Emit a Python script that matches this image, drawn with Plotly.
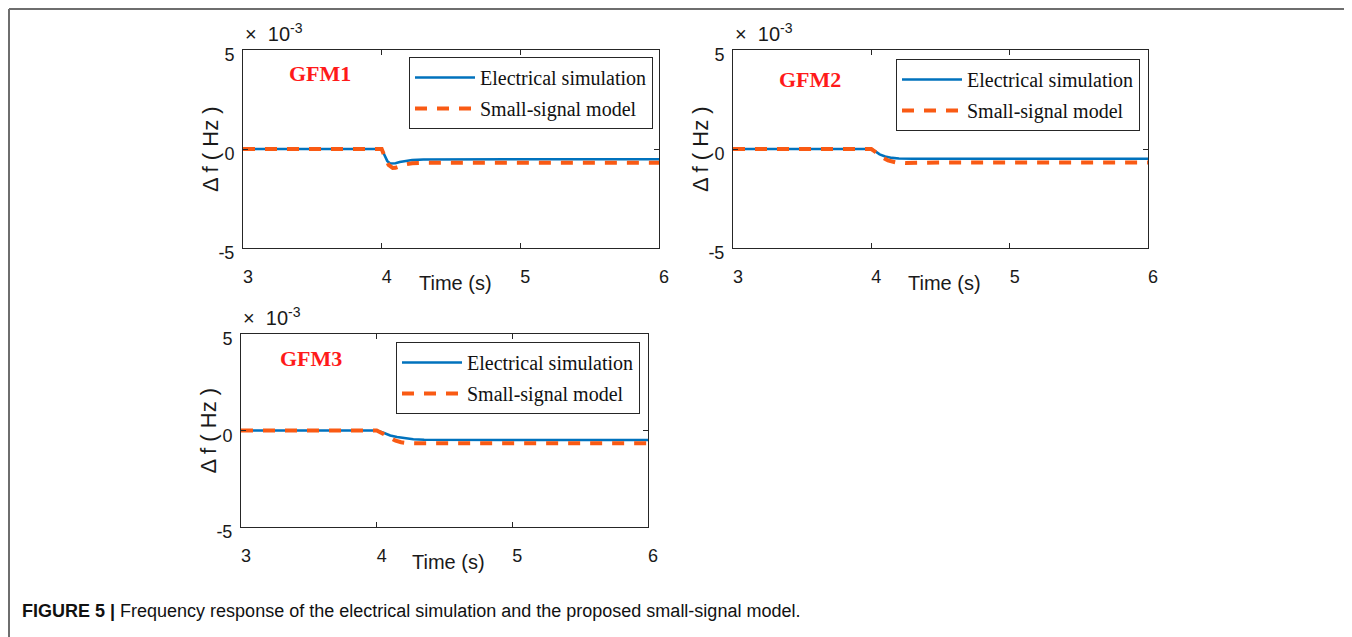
import plotly.graph_objects as go

W, H = 1352, 637
OFF = 8  # page body margin

# ---- data (Δf in units of 1e-3 Hz, time in s) ----
time_range = [3, 6]
f_range = [-5, 5]
x_ticks = [3, 4, 5, 6]
x_ticktext = ["3", "4", "5", "6"]
y_ticks = [-5, 0, 5]
y_ticktext = ["-5", "0", "5"]

panel_names = ["GFM1", "GFM2", "GFM3"]
series_names = ["Electrical simulation", "Small-signal model"]

t_elec_1 = [3.0, 4.0, 4.02, 4.04, 4.06, 4.08, 4.10, 4.13, 4.17, 4.22, 4.30, 4.50, 5.0, 6.0]
f_elec_1 = [0.0, 0.0, -0.30, -0.60, -0.73, -0.74, -0.72, -0.66, -0.60, -0.56, -0.53, -0.52, -0.52, -0.52]
t_ss_1 = [3.0, 4.0, 4.02, 4.05, 4.08, 4.10, 4.13, 4.17, 4.22, 4.30, 5.0, 6.0]
f_ss_1 = [0.0, 0.0, -0.35, -0.80, -0.96, -0.95, -0.88, -0.78, -0.72, -0.70, -0.70, -0.70]

t_elec_2 = [3.0, 4.0, 4.03, 4.06, 4.10, 4.15, 4.20, 4.30, 5.0, 6.0]
f_elec_2 = [0.0, 0.0, -0.12, -0.27, -0.38, -0.45, -0.48, -0.49, -0.49, -0.49]
t_ss_2 = [3.0, 4.0, 4.03, 4.07, 4.12, 4.18, 4.25, 4.35, 4.50, 5.0, 6.0]
f_ss_2 = [0.0, 0.0, -0.15, -0.38, -0.58, -0.68, -0.71, -0.70, -0.68, -0.68, -0.68]

t_elec_3 = [3.0, 4.0, 4.05, 4.10, 4.15, 4.20, 4.27, 4.35, 4.50, 5.0, 6.0]
f_elec_3 = [0.0, 0.0, -0.12, -0.26, -0.34, -0.40, -0.45, -0.48, -0.49, -0.49, -0.49]
t_ss_3 = [3.0, 4.0, 4.04, 4.07, 4.10, 4.14, 4.18, 4.22, 4.30, 5.0, 6.0]
f_ss_3 = [0.0, 0.0, -0.14, -0.27, -0.40, -0.53, -0.61, -0.65, -0.66, -0.66, -0.66]

elec_t = [t_elec_1, t_elec_2, t_elec_3]
elec_f = [f_elec_1, f_elec_2, f_elec_3]
ss_t = [t_ss_1, t_ss_2, t_ss_3]
ss_f = [f_ss_1, f_ss_2, f_ss_3]

# ---- layout geometry (target screen pixels) ----
panels_px = [  # left, right, top, bottom
    (243, 659, 50, 248),
    (733, 1148, 50, 248),
    (241, 648, 334, 527),
]
legend_px = [(653, 57), (1140, 59), (640, 342)]
label_px = [(320, 73), (810, 80), (311, 359)]

BLUE = "#0072BD"
ORANGE = "#F95A14"
AXC = "#262626"


def px(x):
    return (x - OFF) / W


def py(y):
    return 1 - (y - OFF) / H


fig = go.Figure()
for i in range(3):
    ax = "" if i == 0 else str(i + 1)
    lg = "legend" if i == 0 else "legend" + str(i + 1)
    fig.add_trace(go.Scatter(
        x=elec_t[i], y=elec_f[i], mode="lines", name=series_names[0],
        legendgroup="e%d" % i,
        line=dict(color=BLUE, width=2.6), xaxis="x" + ax, yaxis="y" + ax, legend=lg))
    fig.add_trace(go.Scatter(
        x=ss_t[i], y=ss_f[i], mode="lines", name=series_names[1],
        legendgroup="s%d" % i,
        line=dict(color=ORANGE, width=4, dash="12px,10px"), xaxis="x" + ax, yaxis="y" + ax, legend=lg))

layout = dict(
    width=W, height=H, margin=dict(l=0, r=0, t=0, b=0, pad=0, autoexpand=False),
    paper_bgcolor="white", plot_bgcolor="white", showlegend=True,
)
annotations = []
shapes = []
for i, (l, r, t, b) in enumerate(panels_px):
    sx = "" if i == 0 else str(i + 1)
    layout["xaxis" + sx] = dict(
        domain=[px(l), px(r)], range=time_range, anchor="y" + sx,
        tickvals=x_ticks, ticktext=x_ticktext, ticks="inside", ticklen=5,
        tickcolor=AXC, showline=True, linecolor=AXC, linewidth=1, mirror="allticks",
        showgrid=False, zeroline=False, ticklabelstandoff=12, ticklabelshift=5,
        automargin=False,
        tickfont=dict(family="Liberation Sans", size=18, color="#1a1a1a"),
    )
    layout["yaxis" + sx] = dict(
        domain=[py(b), py(t)], range=f_range, anchor="x" + sx,
        tickvals=y_ticks, ticktext=y_ticktext, ticks="inside", ticklen=5,
        tickcolor=AXC, showline=True, linecolor=AXC, linewidth=1, mirror="allticks",
        showgrid=False, zeroline=False, ticklabelstandoff=4, ticklabelshift=5,
        automargin=False,
        tickfont=dict(family="Liberation Sans", size=18, color="#1a1a1a"),
    )
    lg = "legend" if i == 0 else "legend" + str(i + 1)
    lx, ly = legend_px[i]
    layout[lg] = dict(
        x=px(lx), y=py(ly), xanchor="right", yanchor="top",
        bgcolor="white", bordercolor=AXC, borderwidth=1,
        font=dict(family="Liberation Serif", size=20, color="#111111"),
        tracegroupgap=2, itemwidth=60,
    )
    gx, gy = label_px[i]
    annotations.append(dict(
        x=px(gx), y=py(gy), xref="paper", yref="paper", showarrow=False,
        xanchor="center", yanchor="middle",
        text="<b>" + panel_names[i] + "</b>",
        font=dict(family="Liberation Serif", size=22, color="#FF1A1A")))
    # axis titles
    annotations.append(dict(
        x=px((l + r) / 2 + 4), y=py(b + 35), xref="paper", yref="paper", showarrow=False,
        xanchor="center", yanchor="middle",
        text="Time (s)", font=dict(family="Liberation Sans", size=20, color="#1a1a1a")))
    annotations.append(dict(
        x=px(l - 33), y=py((t + b) / 2), xref="paper", yref="paper", showarrow=False,
        xanchor="center", yanchor="middle",
        text="Δ f ( Hz )", textangle=-90,
        font=dict(family="Liberation Sans", size=22, color="#1a1a1a")))
    annotations.append(dict(
        x=px(l), y=py(t - 3), xref="paper", yref="paper", showarrow=False,
        xanchor="left", yanchor="bottom",
        text="×  10<sup>-3</sup>", font=dict(family="Liberation Sans", size=20, color="#1a1a1a")))

annotations.append(dict(
    x=px(20), y=py(611), xref="paper", yref="paper", showarrow=False,
    xanchor="left", yanchor="middle",
    text="<b>FIGURE 5 |</b> Frequency response of the electrical simulation and the proposed small-signal model.",
    font=dict(family="Liberation Sans Narrow, Liberation Sans", size=18, color="#111111")))

# figure frame (top, left, right) - kept just inside the drawable page area
for (x0, y0, x1, y1) in [(9, 9, 1349, 9), (9, 9, 9, 650), (1349, 9, 1349, 650)]:
    shapes.append(dict(type="line", xref="paper", yref="paper",
                       x0=px(x0), y0=py(y0), x1=px(x1), y1=py(y1),
                       line=dict(color="#6e6e6e", width=2)))

layout["annotations"] = annotations
layout["shapes"] = shapes
fig.update_layout(**layout)
fig.write_html("out.html")
